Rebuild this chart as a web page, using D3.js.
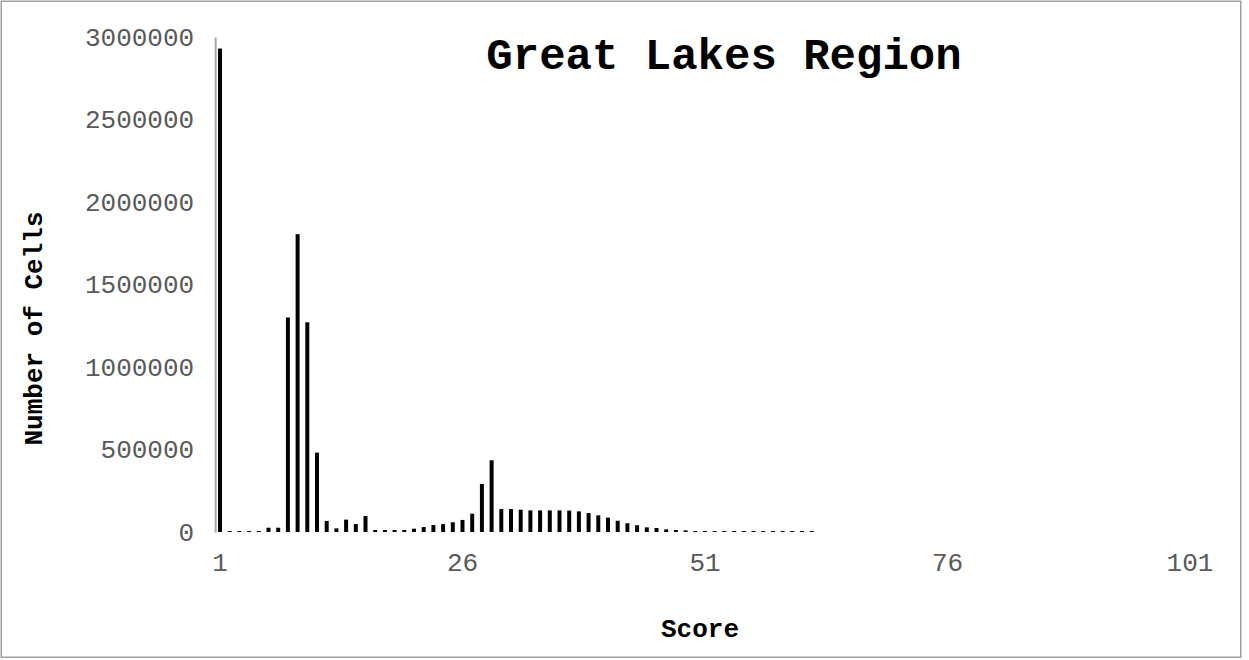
<!DOCTYPE html>
<html>
<head>
<meta charset="utf-8">
<script src="https://cdn.jsdelivr.net/npm/d3@7"></script>
<style>
  html, body { margin: 0; padding: 0; background: #fff; }
  svg { display: block; }
  text { font-family: "Courier New", "Nimbus Mono PS", "FreeMono", "Liberation Mono", monospace; }
</style>
</head>
<body>
<svg id="chart" width="1249" height="660"></svg>
<script>
// ---- data ----
const chartTitle = "Great Lakes Region";
const xTitle = "Score";
const yTitle = "Number of Cells";

const scores = [
  1,2,3,4,5,6,7,8,9,10,11,12,13,14,15,16,17,18,19,20,
  21,22,23,24,25,26,27,28,29,30,31,32,33,34,35,36,37,38,39,40,
  41,42,43,44,45,46,47,48,49,50,51,52,53,54,55,56,57,58,59,60,
  61,62,63,64,65,66,67,68,69,70,71,72,73,74,75,76,77,78,79,80,
  81,82,83,84,85,86,87,88,89,90,91,92,93,94,95,96,97,98,99,100,101
];

const cellCounts = [
  2930000, 6000, 6000, 6000, 6000, 26000, 26000, 1300000, 1805000, 1271000,
  481000, 67000, 22000, 75000, 48000, 97000, 12000, 12000, 12000, 12000,
  20000, 30000, 42000, 48000, 59000, 73000, 111000, 291000, 435000, 139000,
  139000, 135000, 131000, 131000, 131000, 131000, 130000, 125000, 115000, 101000,
  87000, 68000, 53000, 41000, 28000, 24000, 16000, 12000, 10000, 6000,
  6000, 6000, 6000, 6000, 6000, 6000, 6000, 6000, 6000, 6000,
  6000, 6000, 0, 0, 0, 0, 0, 0, 0, 0,
  0, 0, 0, 0, 0, 0, 0, 0, 0, 0,
  0, 0, 0, 0, 0, 0, 0, 0, 0, 0,
  0, 0, 0, 0, 0, 0, 0, 0, 0, 0,
  0
];

const xTickLabels = [1, 26, 51, 76, 101];
const yTickValues = [0, 500000, 1000000, 1500000, 2000000, 2500000, 3000000];

const data = scores.map((s, i) => ({ score: s, count: cellCounts[i] }));

// ---- layout ----
const FONT = '"Courier New", "Nimbus Mono PS", "FreeMono", "Liberation Mono", monospace';
const svg = d3.select("#chart");
const plot = { left: 215.15, right: 1194.85, top: 37, bottom: 532 };

// outer border
svg.append("rect")
  .attr("x", 1.25).attr("y", 1.25)
  .attr("width", 1239.5).attr("height", 656)
  .attr("fill", "#fff")
  .attr("stroke", "#a0a0a0")
  .attr("stroke-width", 1.5);

const x = d3.scaleBand()
  .domain(scores)
  .range([plot.left, plot.right])
  .paddingInner(0.59)
  .paddingOuter(0.295);

const y = d3.scaleLinear()
  .domain([0, 3000000])
  .range([plot.bottom, plot.top]);

// bars
svg.append("g")
  .selectAll("rect")
  .data(data.filter(d => d.count > 0))
  .join("rect")
  .attr("x", d => x(d.score))
  .attr("width", x.bandwidth())
  .attr("y", d => y(d.count))
  .attr("height", d => y(0) - y(d.count))
  .attr("fill", "#000");

// y axis
const yAxis = svg.append("g")
  .attr("transform", `translate(${plot.left},0)`)
  .call(d3.axisLeft(y)
    .tickValues(yTickValues)
    .tickFormat(d3.format("d"))
    .tickSize(0)
    .tickPadding(21));
yAxis.select(".domain")
  .attr("stroke", "#a6a6a6")
  .attr("stroke-width", 2);
yAxis.selectAll(".tick text")
  .attr("font-family", FONT)
  .attr("font-size", 26)
  .attr("fill", "#595959");

// x axis
const xAxis = svg.append("g")
  .attr("transform", `translate(0,${plot.bottom})`)
  .call(d3.axisBottom(x)
    .tickValues(xTickLabels)
    .tickSize(0)
    .tickPadding(21));
xAxis.select(".domain").remove();
xAxis.selectAll(".tick text")
  .attr("font-family", FONT)
  .attr("font-size", 26)
  .attr("fill", "#595959");

// titles
svg.append("text")
  .attr("x", 724).attr("y", 69)
  .attr("text-anchor", "middle")
  .attr("font-size", 44)
  .attr("font-weight", "bold")
  .attr("fill", "#000")
  .text(chartTitle);

svg.append("text")
  .attr("x", 700).attr("y", 637)
  .attr("text-anchor", "middle")
  .attr("font-size", 26)
  .attr("font-weight", "bold")
  .attr("fill", "#000")
  .text(xTitle);

svg.append("text")
  .attr("transform", "translate(41.5,328.5) rotate(-90)")
  .attr("text-anchor", "middle")
  .attr("font-size", 26)
  .attr("font-weight", "bold")
  .attr("fill", "#000")
  .text(yTitle);
</script>
</body>
</html>
